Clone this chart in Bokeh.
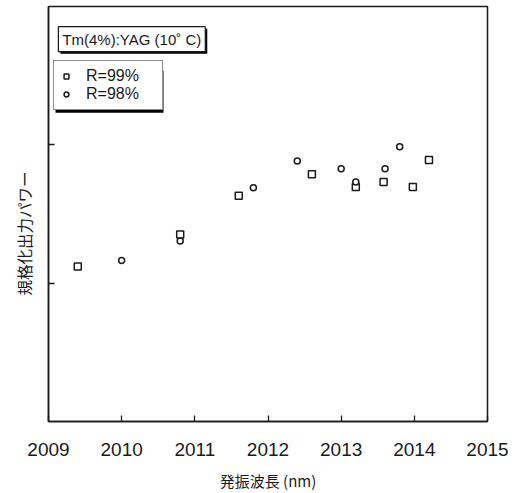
from bokeh.plotting import figure
from bokeh.models import (Range1d, FixedTicker, Label, Legend, LegendItem,
                          BoxAnnotation, Title)
from bokeh.embed import file_html
from bokeh.resources import INLINE

# ---- data ----
x_r99 = [2009.40, 2010.80, 2011.60, 2012.60, 2013.20, 2013.58, 2013.98, 2014.20]
y_r99 = [0.560, 0.676, 0.816, 0.894, 0.848, 0.866, 0.848, 0.945]
x_r98 = [2010.00, 2010.80, 2011.80, 2012.40, 2013.00, 2013.20, 2013.60, 2013.80]
y_r98 = [0.582, 0.652, 0.845, 0.942, 0.914, 0.866, 0.914, 0.993]
x_ticks = [2009, 2010, 2011, 2012, 2013, 2014, 2015]
y_ticks = [0.5, 1.0]
legend_labels = ["R=99%", "R=98%"]
x_title = "発振波長 (nm)"
y_title = "規格化出力パワー"
note_text = "Tm(4%):YAG (10˚ C)"

LAT = "Liberation Sans"
CJK = "Noto Sans CJK JP"
INK = "#1a1a1a"

p = figure(width=516, height=493, output_backend="svg", toolbar_location=None,
           x_range=Range1d(2009, 2015), y_range=Range1d(0, 1.5),
           min_border_left=48, min_border_right=29, min_border_top=6,
           min_border_bottom=10)
p.background_fill_color = "white"
p.border_fill_color = "white"
p.outline_line_color = INK
p.outline_line_width = 1.5
p.xgrid.visible = False
p.ygrid.visible = False

xa = p.xaxis[0]
xa.ticker = FixedTicker(ticks=x_ticks)
xa.minor_tick_line_color = None
xa.major_tick_in = 6
xa.major_tick_out = 0
xa.major_tick_line_color = INK
xa.major_tick_line_width = 1.3
xa.axis_line_color = INK
xa.axis_line_width = 1.5
xa.major_label_text_font = LAT
xa.major_label_text_font_size = "19px"
xa.major_label_text_color = INK
xa.major_label_standoff = 21
xa.axis_label = x_title
xa.axis_label_text_font = CJK
xa.axis_label_text_font_size = "15px"
xa.axis_label_text_font_style = "normal"
xa.axis_label_text_color = INK
xa.axis_label_standoff = 11

ya = p.yaxis[0]
ya.ticker = FixedTicker(ticks=y_ticks)
ya.minor_tick_line_color = None
ya.major_tick_in = 6
ya.major_tick_out = 0
ya.major_tick_line_color = INK
ya.major_tick_line_width = 1.3
ya.axis_line_color = INK
ya.axis_line_width = 1.5
ya.major_label_overrides = {0.5: "", 1.0: ""}
ya.major_label_text_color = None
ya.major_label_standoff = 0

r1 = p.scatter(x_r99, y_r99, marker="square", size=7, fill_color="white",
               line_color=INK, line_width=1.5)
r2 = p.scatter(x_r98, y_r98, marker="circle", size=6, fill_color="white",
               line_color=INK, line_width=1.5)

# y-axis title as a left-side title, shifted down like the reference
p.add_layout(Title(text=y_title, align="left", vertical_align="top",
                   offset=126, standoff=23,
                   text_font=CJK, text_font_size="15.5px",
                   text_font_style="normal", text_color=INK), "left")

# note box with shadow
p.add_layout(Label(x=2009.135, y=1.382, text=note_text, text_font=LAT,
                   text_font_size="15px", text_color="black",
                   text_baseline="middle", x_offset=2, y_offset=-2,
                   background_fill_color="black", padding=4))
p.add_layout(Label(x=2009.135, y=1.382, text=note_text, text_font=LAT,
                   text_font_size="15px", text_color=INK,
                   text_baseline="middle",
                   background_fill_color="white", border_line_color=INK,
                   border_line_width=1.2, padding=4))

# legend shadow
p.add_layout(BoxAnnotation(left=2009.0957, right=2010.5717, top=1.2681,
                           bottom=1.1159, fill_color="black", fill_alpha=1.0,
                           line_color=None))

legend = Legend(items=[LegendItem(label=legend_labels[0], renderers=[r1]),
                       LegendItem(label=legend_labels[1], renderers=[r2])],
                location=(5, 311), orientation="vertical",
                border_line_color=INK, border_line_width=1.2,
                background_fill_color="white", background_fill_alpha=1.0,
                label_text_font=LAT, label_text_font_size="16px",
                label_text_color=INK, glyph_width=12, glyph_height=14,
                label_height=14, label_width=70, label_standoff=14,
                spacing=-2, padding=6, margin=0)
p.add_layout(legend)

open("out.html", "w").write(file_html(p, INLINE))
